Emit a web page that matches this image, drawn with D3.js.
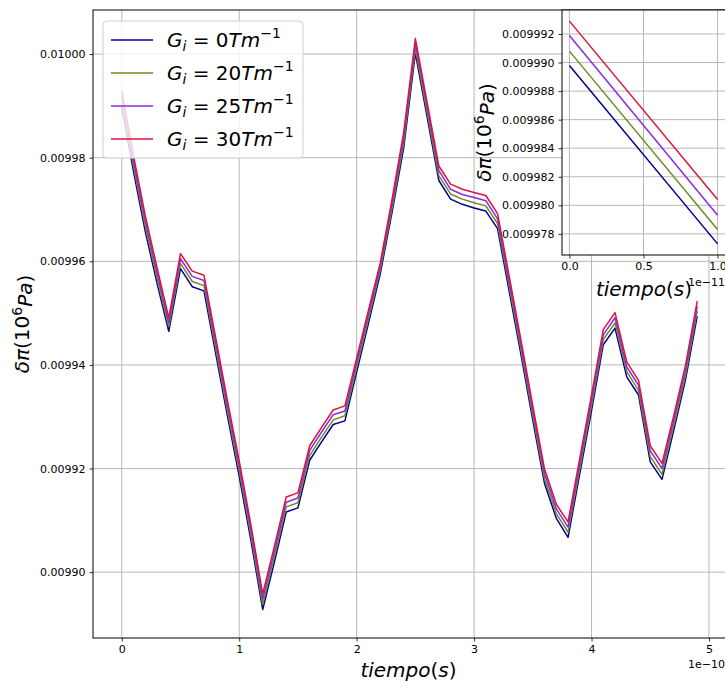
<!DOCTYPE html>
<html>
<head>
<meta charset="utf-8">
<script src="https://cdn.jsdelivr.net/npm/d3@7"></script>
<style>
  body { margin: 0; background: #fff; }
  svg { font-family: "DejaVu Sans", sans-serif; }
</style>
</head>
<body>
<svg id="chart" width="725" height="681"></svg>
<script>
// tiempo in units of 1e-10 s
const times = [0.0, 0.1, 0.2, 0.3, 0.4, 0.5, 0.6, 0.7, 0.8, 0.9,
               1.0, 1.1, 1.2, 1.3, 1.4, 1.5, 1.6, 1.7, 1.8, 1.9,
               2.0, 2.1, 2.2, 2.3, 2.4, 2.5, 2.6, 2.7, 2.8, 2.9,
               3.0, 3.1, 3.2, 3.3, 3.4, 3.5, 3.6, 3.7, 3.8, 3.9,
               4.0, 4.1, 4.2, 4.3, 4.4, 4.5, 4.6, 4.7, 4.8, 4.9];

const g0 = [0.0099898, 0.0099773, 0.0099658, 0.0099558, 0.0099465, 0.0099586, 0.0099551, 0.0099543, 0.0099422, 0.0099301,
            0.0099185, 0.0099061, 0.0098928, 0.0099020, 0.0099116, 0.0099124, 0.0099216, 0.0099251, 0.0099285, 0.0099292,
            0.0099386, 0.0099480, 0.0099575, 0.0099693, 0.0099818, 0.0100002, 0.0099879, 0.0099756, 0.0099720, 0.0099710,
            0.0099703, 0.0099697, 0.0099663, 0.0099541, 0.0099419, 0.0099293, 0.0099171, 0.0099104, 0.0099067, 0.0099190,
            0.0099312, 0.0099439, 0.0099471, 0.0099377, 0.0099342, 0.0099213, 0.0099179, 0.0099274, 0.0099371, 0.0099494];

const g20 = [0.0099908, 0.0099783, 0.0099668, 0.0099568, 0.0099474, 0.0099596, 0.0099561, 0.0099553, 0.0099432, 0.0099311,
             0.0099195, 0.0099071, 0.0098938, 0.0099030, 0.0099126, 0.0099134, 0.0099225, 0.0099260, 0.0099294, 0.0099302,
             0.0099395, 0.0099488, 0.0099582, 0.0099701, 0.0099828, 0.0100011, 0.0099888, 0.0099765, 0.0099730, 0.0099720,
             0.0099713, 0.0099707, 0.0099673, 0.0099551, 0.0099428, 0.0099302, 0.0099180, 0.0099113, 0.0099077, 0.0099200,
             0.0099322, 0.0099449, 0.0099481, 0.0099387, 0.0099351, 0.0099223, 0.0099189, 0.0099283, 0.0099380, 0.0099504];

const g25 = [0.0099919, 0.0099793, 0.0099678, 0.0099578, 0.0099482, 0.0099605, 0.0099571, 0.0099563, 0.0099442, 0.0099321,
             0.0099205, 0.0099081, 0.0098948, 0.0099040, 0.0099135, 0.0099143, 0.0099235, 0.0099270, 0.0099304, 0.0099311,
             0.0099404, 0.0099497, 0.0099589, 0.0099710, 0.0099838, 0.0100021, 0.0099898, 0.0099775, 0.0099739, 0.0099729,
             0.0099723, 0.0099717, 0.0099682, 0.0099560, 0.0099438, 0.0099312, 0.0099190, 0.0099122, 0.0099087, 0.0099210,
             0.0099332, 0.0099458, 0.0099491, 0.0099396, 0.0099361, 0.0099234, 0.0099200, 0.0099293, 0.0099390, 0.0099513];

const g30 = [0.0099929, 0.0099804, 0.0099688, 0.0099588, 0.0099491, 0.0099615, 0.0099581, 0.0099573, 0.0099452, 0.0099331,
             0.0099215, 0.0099091, 0.0098958, 0.0099050, 0.0099145, 0.0099153, 0.0099244, 0.0099279, 0.0099313, 0.0099321,
             0.0099413, 0.0099505, 0.0099596, 0.0099718, 0.0099848, 0.0100030, 0.0099907, 0.0099784, 0.0099749, 0.0099739,
             0.0099733, 0.0099727, 0.0099692, 0.0099570, 0.0099447, 0.0099321, 0.0099199, 0.0099131, 0.0099097, 0.0099220,
             0.0099342, 0.0099468, 0.0099501, 0.0099406, 0.0099370, 0.0099244, 0.0099210, 0.0099302, 0.0099399, 0.0099523];

const seriesLabels = ["0", "20", "25", "30"];
const seriesColors = ["#00008b", "#6b8e23", "#8a2be2", "#dc143c"];
const seriesValues = [g0, g20, g25, g30];

const xTicks = [0, 1, 2, 3, 4, 5];
const yTicks = [0.00990, 0.00992, 0.00994, 0.00996, 0.00998, 0.01000];

// inset: first two samples, tiempo in units of 1e-11 s
const insetTimes = [0.0, 1.0];
const insetXTicks = [0.0, 0.5, 1.0];
const insetYTicks = [0.009978, 0.009980, 0.009982, 0.009984, 0.009986, 0.009988, 0.009990, 0.009992];

const svg = d3.select("#chart");
const gridColor = "#b0b0b0";

// matplotlib-like 5% margins
function padded(lo, hi) {
  const m = (hi - lo) * 0.05;
  return [lo - m, hi + m];
}

function yLabel(sel) {
  sel.append("tspan").attr("font-style", "italic").text("δπ");
  sel.append("tspan").text("(10");
  sel.append("tspan").attr("font-size", "0.7em").attr("dy", "-0.5em").text("6");
  sel.append("tspan").attr("font-style", "italic").attr("dy", "0.5em").text("Pa");
  sel.append("tspan").text(")");
}
function xLabel(sel) {
  sel.append("tspan").attr("font-style", "italic").text("tiempo");
  sel.append("tspan").text("(");
  sel.append("tspan").attr("font-style", "italic").text("s");
  sel.append("tspan").text(")");
}

// ---------- main axes ----------
const main = { left: 93, top: 10, right: 726, bottom: 638 };
const allVals = seriesValues.flat();
const x = d3.scaleLinear().domain(padded(d3.min(times), d3.max(times))).range([main.left, main.right]);
const y = d3.scaleLinear().domain(padded(d3.min(allVals), d3.max(allVals))).range([main.bottom, main.top]);

const gMain = svg.append("g");

gMain.append("g").selectAll("line.gx").data(xTicks).join("line")
  .attr("x1", d => x(d)).attr("x2", d => x(d))
  .attr("y1", main.top).attr("y2", main.bottom)
  .attr("stroke", gridColor).attr("stroke-width", 0.9);
gMain.append("g").selectAll("line.gy").data(yTicks).join("line")
  .attr("x1", main.left).attr("x2", main.right)
  .attr("y1", d => y(d)).attr("y2", d => y(d))
  .attr("stroke", gridColor).attr("stroke-width", 0.9);

const line = d3.line().x((d, i) => x(times[i])).y(d => y(d));
seriesValues.forEach((vals, k) => {
  gMain.append("path").datum(vals)
    .attr("d", line).attr("fill", "none")
    .attr("stroke", seriesColors[k]).attr("stroke-width", 1.5)
    .attr("stroke-linejoin", "round");
});

const xAxis = gMain.append("g").attr("transform", `translate(0,${main.bottom})`)
  .call(d3.axisBottom(x).tickValues(xTicks).tickFormat(d3.format("d")).tickSize(3.5).tickPadding(4));
const yAxis = gMain.append("g").attr("transform", `translate(${main.left},0)`)
  .call(d3.axisLeft(y).tickValues(yTicks).tickFormat(d3.format(".5f")).tickSize(3.5).tickPadding(4));
[xAxis, yAxis].forEach(a => {
  a.select(".domain").remove();
  a.selectAll("text").attr("font-size", 11).attr("fill", "#000").attr("font-family", "DejaVu Sans");
  a.selectAll("line").attr("stroke", "#000").attr("stroke-width", 0.8);
});

gMain.append("rect")
  .attr("x", main.left).attr("y", main.top)
  .attr("width", main.right - main.left).attr("height", main.bottom - main.top)
  .attr("fill", "none").attr("stroke", "#000").attr("stroke-width", 1);

gMain.append("text").attr("x", main.right - 1).attr("y", 668)
  .attr("text-anchor", "end").attr("font-size", 11).text("1e−10");

gMain.append("text").attr("x", (main.left + main.right) / 2 - 1).attr("y", 677)
  .attr("text-anchor", "middle").attr("font-size", 20).call(xLabel);

gMain.append("text")
  .attr("transform", `translate(29,${(main.top + main.bottom) / 2}) rotate(-90)`)
  .attr("text-anchor", "middle").attr("font-size", 20).call(yLabel);

// ---------- legend ----------
const legend = gMain.append("g").attr("transform", "translate(103,21)");
legend.append("rect").attr("width", 200).attr("height", 137).attr("rx", 4)
  .attr("fill", "#fff").attr("fill-opacity", 0.8).attr("stroke", "#d0d0d0").attr("stroke-width", 1);
seriesLabels.forEach((lab, k) => {
  const row = legend.append("g").attr("transform", `translate(0,${19 + k * 33})`);
  row.append("line").attr("x1", 8).attr("x2", 50).attr("y1", 0).attr("y2", 0)
    .attr("stroke", seriesColors[k]).attr("stroke-width", 1.5);
  const t = row.append("text").attr("x", 64).attr("y", 7).attr("font-size", 20);
  t.append("tspan").attr("font-style", "italic").text("G");
  t.append("tspan").attr("font-style", "italic").attr("font-size", 14).attr("dy", 4).text("i");
  t.append("tspan").attr("dy", -4).text(" = " + lab);
  t.append("tspan").attr("font-style", "italic").text("Tm");
  t.append("tspan").attr("font-size", 14).attr("dy", -9).text("−1");
});

// ---------- inset ----------
const ins = { left: 562, top: 10, right: 725, bottom: 255 };
const insetSeries = seriesValues.map(v => v.slice(0, 2));
const insetVals = insetSeries.flat();
const xi = d3.scaleLinear().domain(padded(insetTimes[0], insetTimes[1])).range([ins.left, ins.right]);
const yi = d3.scaleLinear().domain(padded(d3.min(insetVals), d3.max(insetVals))).range([ins.bottom, ins.top]);

const gIns = svg.append("g");
gIns.append("rect").attr("x", ins.left).attr("y", ins.top)
  .attr("width", ins.right - ins.left).attr("height", ins.bottom - ins.top).attr("fill", "#fff");

gIns.append("g").selectAll("line").data(insetXTicks).join("line")
  .attr("x1", d => xi(d)).attr("x2", d => xi(d))
  .attr("y1", ins.top).attr("y2", ins.bottom)
  .attr("stroke", gridColor).attr("stroke-width", 0.9);
gIns.append("g").selectAll("line").data(insetYTicks).join("line")
  .attr("x1", ins.left).attr("x2", ins.right)
  .attr("y1", d => yi(d)).attr("y2", d => yi(d))
  .attr("stroke", gridColor).attr("stroke-width", 0.9);

const insetLine = d3.line().x((d, i) => xi(insetTimes[i])).y(d => yi(d));
insetSeries.forEach((vals, k) => {
  gIns.append("path").datum(vals)
    .attr("d", insetLine).attr("fill", "none")
    .attr("stroke", seriesColors[k]).attr("stroke-width", 1.5);
});

const xiAxis = gIns.append("g").attr("transform", `translate(0,${ins.bottom})`)
  .call(d3.axisBottom(xi).tickValues(insetXTicks).tickFormat(d3.format(".1f")).tickSize(3.5).tickPadding(4));
const yiAxis = gIns.append("g").attr("transform", `translate(${ins.left},0)`)
  .call(d3.axisLeft(yi).tickValues(insetYTicks).tickFormat(d3.format(".6f")).tickSize(3.5).tickPadding(4));
[xiAxis, yiAxis].forEach(a => {
  a.select(".domain").remove();
  a.selectAll("text").attr("font-size", 11).attr("fill", "#000").attr("font-family", "DejaVu Sans");
  a.selectAll("line").attr("stroke", "#000").attr("stroke-width", 0.8);
});

gIns.append("rect").attr("x", ins.left).attr("y", ins.top)
  .attr("width", ins.right - ins.left + 2).attr("height", ins.bottom - ins.top)
  .attr("fill", "none").attr("stroke", "#000").attr("stroke-width", 1);

gIns.append("text").attr("x", 644).attr("y", 296)
  .attr("text-anchor", "middle").attr("font-size", 20).call(xLabel);
gIns.append("text").attr("x", ins.right).attr("y", 286)
  .attr("text-anchor", "end").attr("font-size", 11).text("1e−11");

gIns.append("text")
  .attr("transform", `translate(491,${(ins.top + ins.bottom) / 2}) rotate(-90)`)
  .attr("text-anchor", "middle").attr("font-size", 20).call(yLabel);
</script>
</body>
</html>
